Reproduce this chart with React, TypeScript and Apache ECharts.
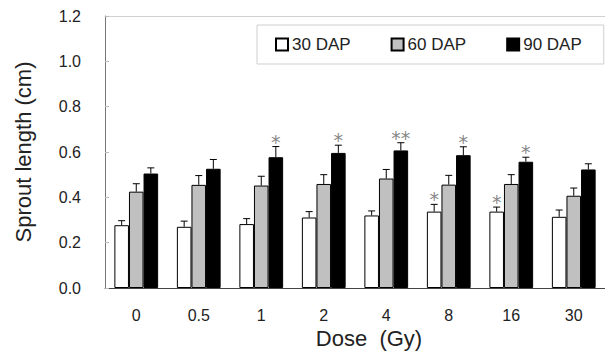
import React, { useEffect, useRef } from "react";
import * as echarts from "echarts";

const doses = ["0", "0.5", "1", "2", "4", "8", "16", "30"];
const seriesNames = ["30 DAP", "60 DAP", "90 DAP"];
const dap30 = [0.277, 0.27, 0.282, 0.311, 0.32, 0.337, 0.337, 0.314];
const dap60 = [0.425, 0.455, 0.452, 0.459, 0.483, 0.456, 0.459, 0.407];
const dap90 = [0.505, 0.526, 0.577, 0.596, 0.607, 0.586, 0.557, 0.523];
const err30 = [0.02, 0.025, 0.024, 0.026, 0.02, 0.032, 0.02, 0.03];
const err60 = [0.035, 0.041, 0.041, 0.041, 0.04, 0.041, 0.041, 0.034];
const err90 = [0.025, 0.041, 0.047, 0.034, 0.034, 0.037, 0.02, 0.025];
const sig30 = ["", "", "", "", "", "*", "*", ""];
const sig60 = ["", "", "", "", "", "", "", ""];
const sig90 = ["", "", "*", "*", "**", "*", "*", ""];
const yTicks = [0, 0.2, 0.4, 0.6, 0.8, 1.0, 1.2];

const FONT = "'Liberation Sans', Arial, sans-serif";

export default function App() {
  const ref = useRef<HTMLDivElement>(null);
  useEffect(() => {
    if (!ref.current) return;
    const chart = echarts.init(ref.current, null, { renderer: "svg" });
    const values = [dap30, dap60, dap90];
    const errs = [err30, err60, err90];
    const sigs = [sig30, sig60, sig90];
    const colors = ["#ffffff", "#c0c0c0", "#000000"];
    const catGap = 0.3;

    const barSeries = seriesNames.map((name, i) => ({
      name,
      type: "bar",
      data: values[i],
      barGap: "0%",
      barCategoryGap: "30%",
      itemStyle: { color: colors[i], borderColor: "#000", borderWidth: 1 },
      z: 2,
    }));

    const errSeries = seriesNames.map((name, i) => ({
      name: "err " + name,
      type: "custom",
      z: 3,
      itemStyle: { color: "#888" },
      data: doses.map((_, k) => [k, values[i][k], errs[i][k]]),
      encode: { x: 0, y: [1, 2] },
      renderItem: (params: any, api: any) => {
        const k = api.value(0);
        const v = api.value(1);
        const e = api.value(2);
        const s = sigs[i][k];
        const band = api.size([1, 0])[0];
        const bw = (band * (1 - catGap)) / 3;
        const base = api.coord([k, v]);
        const top = api.coord([k, v + e]);
        const cx = base[0] + (i - 1) * bw;
        const capHalf = 3.5;
        const children: any[] = [
          {
            type: "line",
            shape: { x1: cx, y1: base[1], x2: cx, y2: top[1] },
            style: { stroke: "#000", lineWidth: 1 },
          },
          {
            type: "line",
            shape: { x1: cx - capHalf, y1: top[1], x2: cx + capHalf, y2: top[1] },
            style: { stroke: "#000", lineWidth: 1 },
          },
        ];
        if (s) {
          children.push({
            type: "text",
            style: {
              text: s,
              x: cx,
              y: top[1] - 5,
              align: "center",
              verticalAlign: "middle",
              fontSize: 19,
              fontFamily: "'DejaVu Sans', sans-serif",
              fill: "#888",
            },
          });
        }
        return { type: "group", children };
      },
    }));

    chart.setOption({
      animation: false,
      backgroundColor: "#fff",
      textStyle: { fontFamily: FONT },
      grid: { left: 105, right: 0, top: 16, bottom: 71 },
      legend: {
        data: seriesNames,
        left: 257,
        top: 25,
        width: 320,
        orient: "horizontal",
        itemWidth: 12,
        itemHeight: 12,
        itemGap: 40,
        icon: "rect",
        padding: [11, 22, 11, 18],
        backgroundColor: "#fff",
        borderColor: "#cfcfcf",
        borderWidth: 1,
        textStyle: { fontSize: 17, color: "#222", fontFamily: FONT, padding: [0, 0, 0, -1] },
        selectedMode: false,
      },
      xAxis: [
        {
          type: "category",
          data: doses,
          name: "Dose  (Gy)",
          nameLocation: "middle",
          nameGap: 39,
          nameTextStyle: { fontSize: 22, color: "#222", fontFamily: FONT, padding: [0, 0, 0, 28] },
          axisLine: { lineStyle: { color: "#444", width: 1 } },
          axisTick: { show: false },
          axisLabel: { fontSize: 16, color: "#222", margin: 19, fontFamily: FONT },
        },
        {
          type: "category",
          data: doses,
          position: "top",
          axisLine: { show: true, lineStyle: { color: "#d0d0d0", width: 1 } },
          axisTick: { show: false },
          axisLabel: { show: false },
        },
      ],
      yAxis: {
        type: "value",
        min: 0,
        max: 1.2,
        interval: 0.2,
        name: "Sprout length (cm)",
        nameLocation: "middle",
        nameGap: 71,
        nameTextStyle: { fontSize: 22, color: "#222", fontFamily: FONT },
        axisLine: { show: true, lineStyle: { color: "#777", width: 1 } },
        axisTick: { show: true, inside: true, length: 4, lineStyle: { color: "#bbb" } },
        splitLine: { show: false },
        axisLabel: {
          fontSize: 16,
          color: "#222",
          margin: 24,
          fontFamily: FONT,
          formatter: (v: number) => {
            const t = yTicks.find((x) => Math.abs(x - v) < 1e-6);
            return (t ?? v).toFixed(1);
          },
        },
      },
      series: [...barSeries, ...errSeries],
    });
    return () => chart.dispose();
  }, []);
  return (
    <div
      ref={ref}
      style={{ position: "fixed", left: 0, top: 0, width: 605, height: 359 }}
    />
  );
}
